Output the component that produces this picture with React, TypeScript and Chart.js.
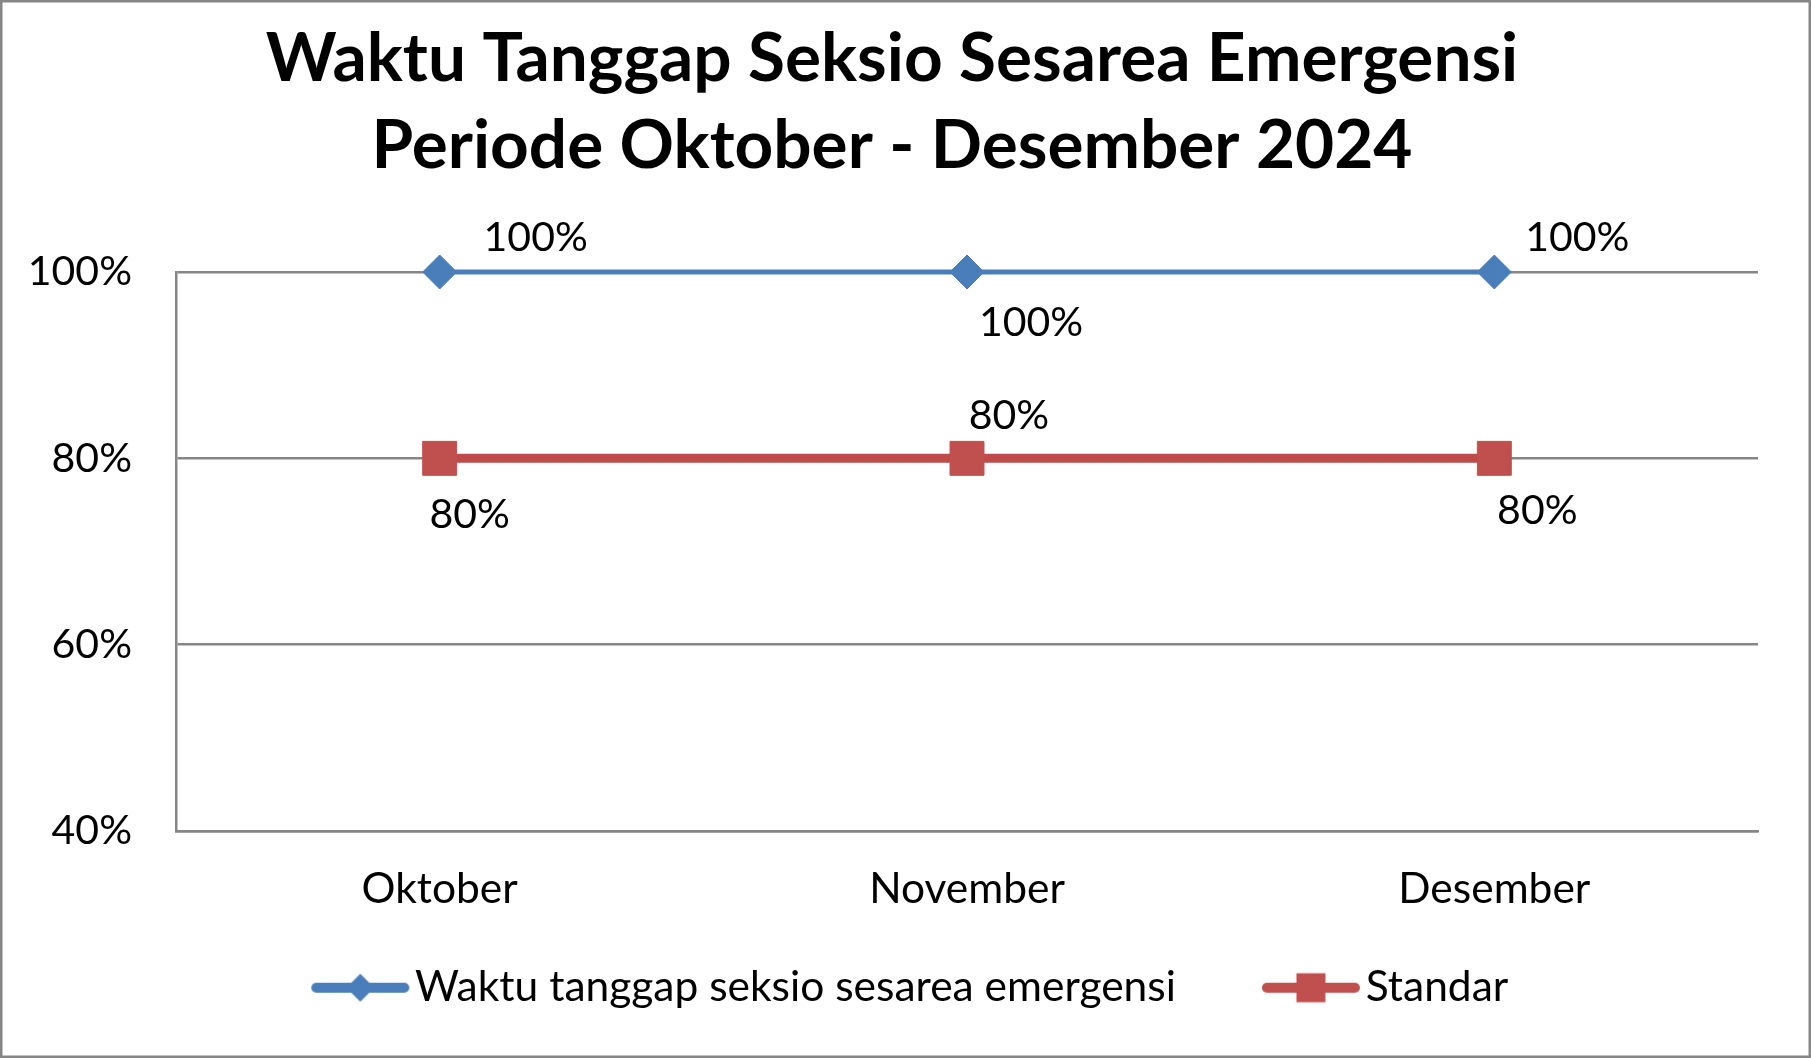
import { useEffect, useRef } from "react";
import { Chart, registerables } from "chart.js";

Chart.register(...registerables);

const FONT = "Lato";
const GREY = "#868686";
const BLUE = "#4A7EBB";
const RED = "#BE4B48";
const RED_MARKER = "#C0504D";

const months = ["Oktober", "November", "Desember"];
const responseTime = [100, 100, 100];
const standard = [80, 80, 80];
const seriesNames = ["Waktu tanggap seksio sesarea emergensi", "Standar"];
const titleLines = ["Waktu Tanggap Seksio Sesarea Emergensi", "Periode Oktober - Desember 2024"];
const yTicks = [40, 60, 80, 100];

// where Excel put each value label, relative to its point (px)
const blueLabelOffsets = [[96, -34], [64, 51], [83, -34]];
const redLabelOffsets = [[30, 56], [42, -43], [43, 52]];

// legend swatch: thick line with the marker in the middle.
// the canvas has empty room on the left so the swatch sits right next to its text
const ICON_W = 151;
const LEGEND_BOX = 118;

const makeIcon = (color: string, shape: "diamond" | "square") => {
  const c = document.createElement("canvas");
  c.width = ICON_W;
  c.height = 32;
  const g = c.getContext("2d")!;
  const mid = ICON_W - 50;
  g.strokeStyle = color;
  g.lineWidth = 10;
  g.lineCap = "round";
  g.beginPath();
  g.moveTo(mid - 44, 16);
  g.lineTo(mid + 44, 16);
  g.stroke();
  g.fillStyle = color;
  if (shape === "diamond") {
    g.beginPath();
    g.moveTo(mid, 2);
    g.lineTo(mid + 14, 16);
    g.lineTo(mid, 30);
    g.lineTo(mid - 14, 16);
    g.closePath();
    g.fill();
  } else {
    g.fillRect(mid - 14.5, 1.5, 29, 29);
  }
  return c;
};

const framePlugin = {
  id: "frame",
  beforeDraw(chart: Chart) {
    const { ctx, width, height } = chart;
    ctx.save();
    ctx.fillStyle = "#fff";
    ctx.fillRect(0, 0, width, height);
    ctx.strokeStyle = GREY;
    ctx.lineWidth = 2.5;
    ctx.strokeRect(1.25, 1.25, width - 2.5, height - 2.5);
    ctx.restore();
  },
};

const valueLabelPlugin = {
  id: "valueLabels",
  afterDatasetsDraw(chart: Chart) {
    const ctx = chart.ctx;
    ctx.save();
    ctx.font = `41px ${FONT}`;
    ctx.fillStyle = "#000";
    ctx.textAlign = "center";
    ctx.textBaseline = "middle";
    chart.data.datasets.forEach((ds, d) => {
      const offs = d === 0 ? blueLabelOffsets : redLabelOffsets;
      chart.getDatasetMeta(d).data.forEach((pt, i) => {
        ctx.fillText(`${ds.data[i]}%`, pt.x + offs[i][0], pt.y + offs[i][1]);
      });
    });
    ctx.restore();
  },
};

const App = () => {
  const canvasRef = useRef<HTMLCanvasElement | null>(null);
  const chartRef = useRef<Chart | null>(null);

  useEffect(() => {
    if (!canvasRef.current) return;
    chartRef.current?.destroy();

    const icons = [makeIcon(BLUE, "diamond"), makeIcon(RED_MARKER, "square")];

    chartRef.current = new Chart(canvasRef.current, {
      type: "line",
      data: {
        labels: months,
        datasets: [
          {
            label: seriesNames[0],
            data: responseTime,
            borderColor: BLUE,
            backgroundColor: BLUE,
            borderWidth: 5,
            pointStyle: "rectRot",
            pointRadius: 17,
            pointBackgroundColor: BLUE,
            pointBorderColor: BLUE,
            pointBorderWidth: 1,
            clip: false,
          },
          {
            label: seriesNames[1],
            data: standard,
            borderColor: RED,
            backgroundColor: RED_MARKER,
            borderWidth: 9,
            pointStyle: "rect",
            pointRadius: 24,
            pointBackgroundColor: RED_MARKER,
            pointBorderColor: RED_MARKER,
            pointBorderWidth: 1,
            clip: false,
          },
        ],
      },
      options: {
        animation: false,
        responsive: true,
        maintainAspectRatio: false,
        events: [],
        layout: { padding: { top: 0, left: 0, right: 27, bottom: 39 } },
        plugins: {
          tooltip: { enabled: false },
          title: {
            display: true,
            text: titleLines,
            color: "#000",
            font: { family: FONT, size: 67.5, weight: "bold", lineHeight: "87px" },
            padding: { top: 15.5, bottom: 82.5 },
          },
          legend: {
            position: "bottom",
            labels: {
              color: "#000",
              font: { family: FONT, size: 42.5 },
              usePointStyle: true,
              pointStyleWidth: LEGEND_BOX,
              padding: 50.5,
              generateLabels: (chart: Chart) =>
                Chart.defaults.plugins.legend.labels
                  .generateLabels(chart)
                  .map((item, i) => ({ ...item, pointStyle: icons[i] })),
            },
          },
        },
        scales: {
          x: {
            type: "category",
            offset: true,
            grid: { display: false, drawTicks: false },
            border: { display: true, color: GREY, width: 2.5 },
            ticks: { color: "#000", font: { family: FONT, size: 42.5 }, padding: 33 },
            afterFit: (s: any) => {
              s.height = 85;
            },
          },
          y: {
            type: "linear",
            min: yTicks[0],
            max: yTicks[yTicks.length - 1],
            afterBuildTicks: (s: any) => {
              s.ticks = yTicks.map((v) => ({ value: v }));
            },
            grid: { color: GREY, lineWidth: 2.5, drawTicks: false },
            border: { color: GREY, width: 2.5 },
            ticks: {
              color: "#000",
              font: { family: FONT, size: 41 },
              padding: 44,
              callback: (v: any) => `${v}%`,
            },
            afterFit: (s: any) => {
              s.width = 176;
            },
          },
          // empty right axis, only to leave Excel's gap at the right of the plot
          yRight: {
            type: "linear",
            position: "right",
            grid: { display: false, drawTicks: false },
            border: { display: false },
            ticks: { display: false },
            afterFit: (s: any) => {
              s.width = 26;
            },
          },
        },
      },
      plugins: [framePlugin, valueLabelPlugin],
    });

    return () => {
      chartRef.current?.destroy();
      chartRef.current = null;
    };
  }, []);

  return (
    <div style={{ position: "absolute", left: 0, top: 0, width: 1811, height: 1058 }}>
      <canvas ref={canvasRef} />
    </div>
  );
};

export default App;
